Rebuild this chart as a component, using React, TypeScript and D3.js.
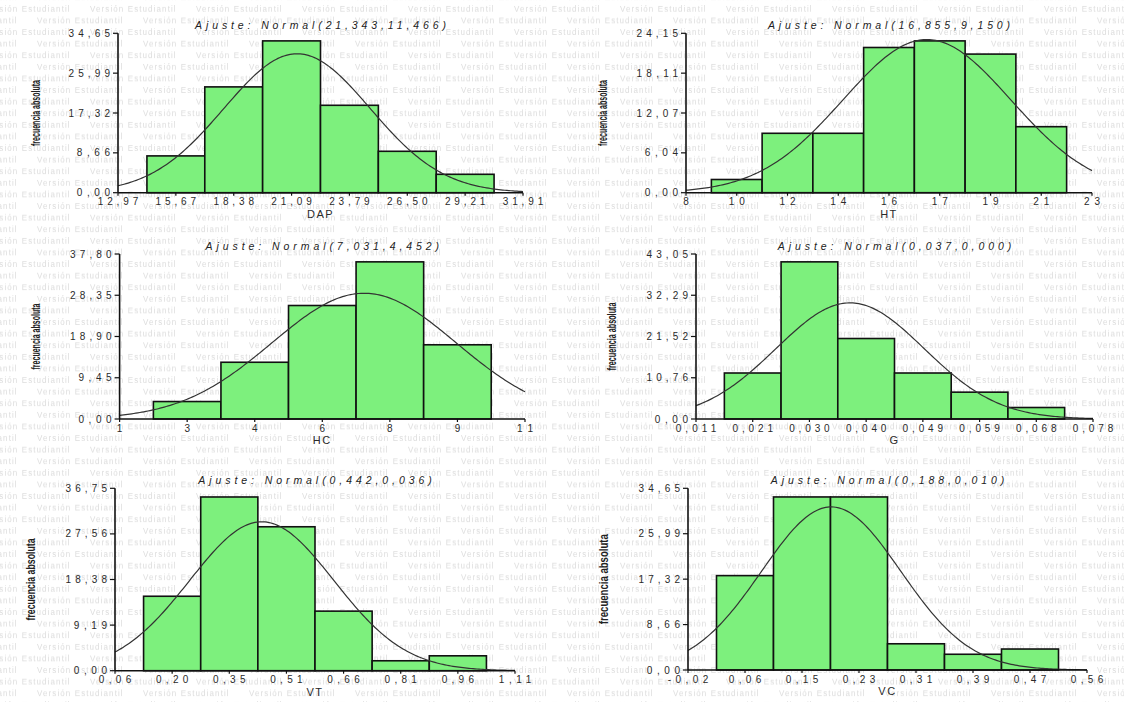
import React from 'react';
import * as d3 from 'd3';

// DAP
const dapTicks = ['12,97', '15,67', '18,38', '21,09', '23,79', '26,50', '29,21', '31,91'];
const dapYTicks = ['0,00', '8,66', '17,32', '25,99', '34,65'];
const dapCounts = [8, 23, 33, 19, 9, 4];
// HT
const htTicks = ['8', '10', '12', '14', '16', '17', '19', '21', '23'];
const htYTicks = ['0,00', '6,04', '12,07', '18,11', '24,15'];
const htCounts = [2, 9, 9, 22, 23, 21, 10];
// HC
const hcTicks = ['1', '3', '4', '6', '8', '9', '11'];
const hcYTicks = ['0,00', '9,45', '18,90', '28,35', '37,80'];
const hcCounts = [4, 13, 26, 36, 17];
// G
const gTicks = ['0,011', '0,021', '0,030', '0,040', '0,049', '0,059', '0,068', '0,078'];
const gYTicks = ['0,00', '10,76', '21,52', '32,29', '43,05'];
const gCounts = [12, 41, 21, 12, 7, 3];
// VT
const vtTicks = ['0,06', '0,20', '0,35', '0,51', '0,66', '0,81', '0,96', '1,11'];
const vtYTicks = ['0,00', '9,19', '18,38', '27,56', '36,75'];
const vtCounts = [15, 35, 29, 12, 2, 3];
// VC
const vcTicks = ['-0,02', '0,06', '0,15', '0,23', '0,31', '0,39', '0,47', '0,56'];
const vcYTicks = ['0,00', '8,66', '17,32', '25,99', '34,65'];
const vcCounts = [18, 33, 33, 5, 3, 4];

// numeric ends of each x axis
const xRanges = [[12.97, 31.91], [8, 23], [1, 11], [0.011, 0.078], [0.055, 1.11], [-0.018, 0.556]];
// fitted normal curve: mean, sd, peak height
const fits = [[21.343, 3.42, 30.2], [16.9, 3.1, 23.2], [7.03, 2.27, 28.8], [0.037, 0.0125, 30.3], [0.442, 0.19, 30.0], [0.188, 0.1, 31.1]];
const titles = [
  'Ajuste: Normal(21,343,11,466)',
  'Ajuste: Normal(16,855,9,150)',
  'Ajuste: Normal(7,031,4,452)',
  'Ajuste: Normal(0,037,0,000)',
  'Ajuste: Normal(0,442,0,036)',
  'Ajuste: Normal(0,188,0,010)',
];
const xNames = ['DAP', 'HT', 'HC', 'G', 'VT', 'VC'];

const frames = [
  { l: 118, r: 523, t: 33.3, b: 192.7, yl: 40, yLen: 66 },
  { l: 686, r: 1092, t: 33.3, b: 192.7, yl: 607, yLen: 66 },
  { l: 119.6, r: 525, t: 254, b: 419, yl: 40, yLen: 66 },
  { l: 696, r: 1093, t: 254, b: 419, yl: 616, yLen: 68 },
  { l: 115, r: 515, t: 488.3, b: 670.7, yl: 35, yLen: 82 },
  { l: 688, r: 1087, t: 488.3, b: 670, yl: 608, yLen: 90 },
];

const panels = [
  { xt: dapTicks, yt: dapYTicks, counts: dapCounts },
  { xt: htTicks, yt: htYTicks, counts: htCounts },
  { xt: hcTicks, yt: hcYTicks, counts: hcCounts },
  { xt: gTicks, yt: gYTicks, counts: gCounts },
  { xt: vtTicks, yt: vtYTicks, counts: vtCounts },
  { xt: vcTicks, yt: vcYTicks, counts: vcCounts },
];

const FONT = '"Liberation Sans", Arial, sans-serif';
const BAR = '#7df07d';

const Histogram = ({ idx }: { idx: number }) => {
  const p = panels[idx];
  const f = frames[idx];
  const [lo, hi] = xRanges[idx];
  const [mu, sd, peak] = fits[idx];
  const yMax = (d3.max(p.counts) as number) * 1.05;

  const x = d3.scaleLinear().domain([lo, hi]).range([f.l, f.r]);
  const y = d3.scaleLinear().domain([0, yMax]).range([f.b, f.t]);
  const step = (hi - lo) / (p.xt.length - 1);
  const tickVals = p.xt.map((_, i) => lo + i * step);

  const curvePts = d3.range(0, 201).map(i => {
    const v = lo + ((hi - lo) * i) / 200;
    return [v, peak * Math.exp(-0.5 * ((v - mu) / sd) ** 2)] as [number, number];
  });
  const line = d3.line<[number, number]>().x(d => x(d[0])).y(d => y(d[1]));
  const cx = (f.l + f.r) / 2;
  const cy = (f.t + f.b) / 2;

  return (
    <g>
      <text x={cx} y={f.t - 4.5} textAnchor="middle" fontFamily={FONT} fontStyle="italic"
        fontSize={10.5} fill="#222" textLength={titles[idx].length * 8.65} lengthAdjust="spacing">
        {titles[idx]}
      </text>

      {p.counts.map((c, i) => {
        const center = tickVals[i + 1];
        const x0 = x(center - step / 2);
        const x1 = x(center + step / 2);
        return (
          <rect key={i} x={x0} y={y(c)} width={x1 - x0} height={y(0) - y(c)}
            fill={BAR} stroke="#111" strokeWidth={1.6} />
        );
      })}

      <path d={line(curvePts) || ''} fill="none" stroke="#333" strokeWidth={1.2} />

      {/* axes */}
      <line x1={f.l} x2={f.l} y1={f.t} y2={f.b} stroke="#111" strokeWidth={1.6} />
      <line x1={f.l} x2={f.r} y1={f.b} y2={f.b} stroke="#111" strokeWidth={1.6} />

      {p.yt.map((lab, i) => {
        const yy = y((yMax * i) / 4);
        return (
          <g key={lab + i}>
            <line x1={f.l - 5} x2={f.l} y1={yy} y2={yy} stroke="#111" strokeWidth={1.2} />
            <text x={f.l - 8} y={yy + 3.5} textAnchor="end" fontFamily={FONT} fontSize={10}
              fill="#2a2a2a" textLength={lab.length * 8.3} lengthAdjust="spacing">
              {lab}
            </text>
          </g>
        );
      })}

      {p.xt.map((lab, i) => {
        const xx = x(tickVals[i]);
        return (
          <g key={lab + i}>
            <line x1={xx} x2={xx} y1={f.b} y2={f.b + 3} stroke="#111" strokeWidth={1.2} />
            <text x={xx} y={f.b + 12.5} textAnchor="middle" fontFamily={FONT} fontSize={10}
              fill="#2a2a2a" textLength={lab.length > 1 ? lab.length * 8.1 : undefined} lengthAdjust="spacing">
              {lab}
            </text>
          </g>
        );
      })}

      <text x={cx} y={f.b + 25} textAnchor="middle" fontFamily={FONT} fontSize={11}
        fill="#2a2a2a" letterSpacing={1.5}>
        {xNames[idx]}
      </text>

      <text transform={`translate(${f.yl},${cy}) rotate(-90)`} textAnchor="middle"
        fontFamily={FONT} fontSize={13} fontWeight="bold" fill="#222"
        textLength={f.yLen} lengthAdjust="spacingAndGlyphs">
        frecuencia absoluta
      </text>
    </g>
  );
};

// faint "Versión Estudiantil" background, drawn as a tiled pattern
const WatermarkDefs = () => (
  <defs>
    <pattern id="wm" patternUnits="userSpaceOnUse" width={106} height={23.2} x={-20} y={4}>
      <g fill="#dcdcdc" fontFamily={FONT} fontSize={8} letterSpacing={1.1}>
        <text x={4} y={8}>Versión Estudiantil</text>
        <text x={57} y={19.6}>Versión Estudiantil</text>
        <text x={-49} y={19.6}>Versión Estudiantil</text>
      </g>
    </pattern>
  </defs>
);

export default function App() {
  return (
    <svg width={1124} height={702} style={{ position: 'absolute', left: 0, top: 0, background: '#fff' }}>
      <WatermarkDefs />
      <rect width={1124} height={702} fill="#fff" />
      <rect width={1124} height={702} fill="url(#wm)" />
      {panels.map((_, i) => (
        <Histogram key={i} idx={i} />
      ))}
    </svg>
  );
}
